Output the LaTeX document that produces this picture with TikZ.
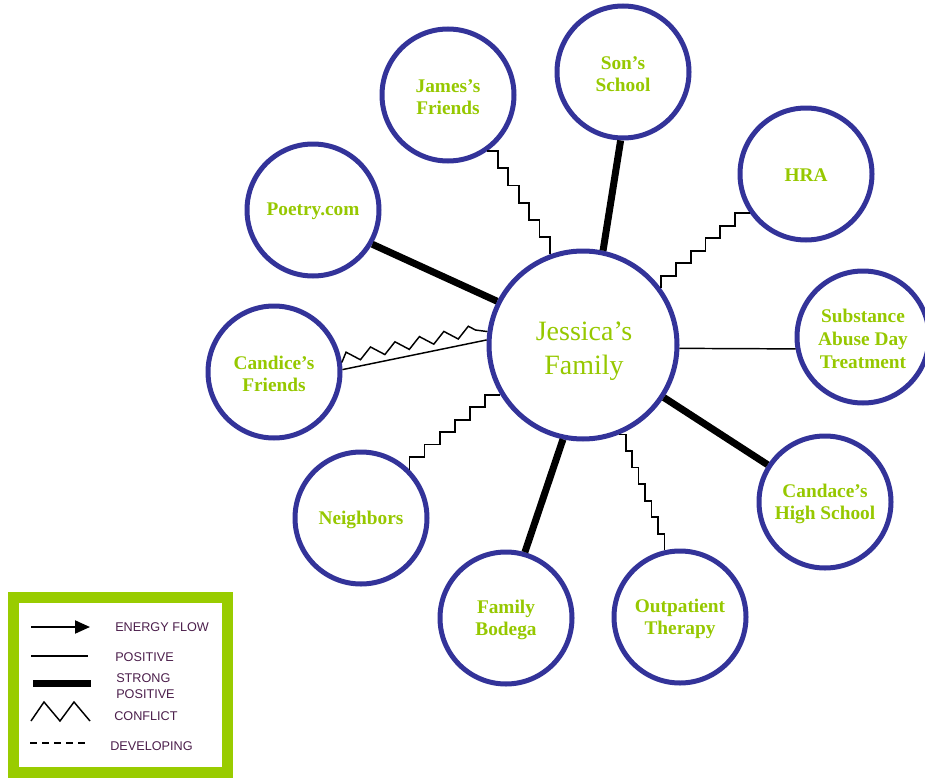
\documentclass[tikz,border=0pt]{standalone}
\usepackage{fontspec}
\setmainfont{Liberation Serif}
\newfontfamily\legfont{Liberation Sans}
\usetikzlibrary{calc,arrows.meta,decorations.pathmorphing}
\definecolor{cblue}{RGB}{51,51,153}
\definecolor{lgreen}{RGB}{150,200,0}
\definecolor{lborder}{RGB}{153,204,0}
\definecolor{ltext}{RGB}{75,30,75}
\tikzset{
  sat/.style={circle, draw=cblue, line width=3.75pt, minimum size=99pt, inner sep=0pt},
  hub/.style={circle, draw=cblue, line width=3.75pt, minimum size=141pt, inner sep=0pt},
  lab/.style={text=lgreen, align=center, inner sep=0pt, font=\bfseries\fontsize{14.5}{17}\selectfont},
  hublab/.style={text=lgreen, align=center, inner sep=0pt, font=\fontsize{21}{25.5}\selectfont},
  strongline/.style={line width=5.25pt},
  posline/.style={line width=1.1pt},
  stairline/.style={line width=1.3pt, line join=miter},
  zzline/.style={line width=1.1pt, decorate, decoration={zigzag, segment length=18.75pt, amplitude=3.9pt, raise=3pt}},
  legtext/.style={anchor=west, text=ltext, align=left, font=\legfont\fontsize{9.5}{11.5}\selectfont, inner sep=0pt},
}
\newcommand\stairHV[3]{\draw[stairline] let \p1=($(#2)-(#1)$) in (#1) foreach \k in {1,...,#3}{ -- ++({\x1/#3},0pt) -- ++(0pt,{\y1/#3}) };}
\newcommand\stairVH[3]{\draw[stairline] let \p1=($(#2)-(#1)$) in (#1) foreach \k in {1,...,#3}{ -- ++(0pt,{\y1/#3}) -- ++({\x1/#3},0pt) };}
\begin{document}
\begin{tikzpicture}[x=0.75pt,y=-0.75pt]
\useasboundingbox (0,0) rectangle (925,778);
% circles
\node[hub] (jess) at (583,345) {};
\node[sat] (james) at (448,95) {};
\node[sat] (sons) at (623,72) {};
\node[sat] (hra) at (806,174) {};
\node[sat] (poetry) at (313,210) {};
\node[sat] (subst) at (863,337) {};
\node[sat] (candice) at (274,372) {};
\node[sat] (neigh) at (361,518) {};
\node[sat] (candace) at (825,502) {};
\node[sat] (bodega) at (506,618) {};
\node[sat] (outp) at (680,617) {};
% labels
\node[hublab] (jesst) at ([xshift=0.75pt,yshift=-4.5pt]jess.center) {Jessica's\\Family};
\node[lab] (jamest) at ([yshift=-1.5pt]james.center) {James's\\Friends};
\node[lab] (sonst) at ([yshift=-1.5pt]sons.center) {Son's\\School};
\node[lab] (hrat) at ([yshift=-0.75pt]hra.center) {HRA};
\node[lab] (poetryt) at ([yshift=-0.75pt]poetry.center) {Poetry.com};
\node[lab] (substt) at ([yshift=-1.5pt]subst.center) {Substance\\Abuse Day\\Treatment};
\node[lab] (candicet) at ([yshift=-1.5pt]candice.center) {Candice's\\Friends};
\node[lab] (neight) at ([yshift=-1.5pt]neigh.center) {Neighbors};
\node[lab] (candacet) at ([yshift=-1.5pt]candace.center) {Candace's\\High School};
\node[lab] (bodegat) at ([yshift=-1.5pt]bodega.center) {Family\\Bodega};
\node[lab] (outpt) at ([yshift=-1.5pt]outp.center) {Outpatient\\Therapy};
% connectors
\stairHV{james.-55}{jess.110}{6}
\draw[strongline] (sons.-92) -- (jess.78);
\stairVH{jess.36}{hra.-145}{6}
\draw[strongline] (poetry.-30) -- (jess.153);
\draw[posline] (jess.-2) -- (subst.190);
\draw[posline] (candice.2) -- (jess.177);
\draw[zzline] (candice.8) -- (jess.172);
\stairVH{neigh.45}{jess.-149}{6}
\draw[strongline] (bodega.74) -- (jess.-102);
\stairHV{jess.-68}{outp.103}{7}
\draw[strongline] (candace.147) -- (jess.-33);
% legend
\draw[lborder, line width=8.25pt] (13.5,597.5) rectangle (227.5,772.5);
\draw[line width=1.5pt, -{Triangle[length=11.25pt,width=9.75pt]}] (31,627) -- (90,627);
\node[legtext] (l1) at (115,627) {ENERGY FLOW};
\draw[line width=1.1pt] (31,656) -- (88,656);
\node[legtext] (l2) at (115,657) {POSITIVE};
\draw[line width=5.25pt] (33,683) -- (91,683);
\node[legtext] (l3) at (116,686) {STRONG\\POSITIVE};
\draw[line width=1.1pt, line join=miter] (31,721) -- (44,702) -- (60,721) -- (74,702) -- (90,721);
\node[legtext] (l4) at (114,716) {CONFLICT};
\draw[line width=1.1pt, dash pattern=on 5.25pt off 3.75pt] (30,743) -- (87,743);
\node[legtext] (l5) at (110,746) {DEVELOPING};
\end{tikzpicture}
\end{document}
